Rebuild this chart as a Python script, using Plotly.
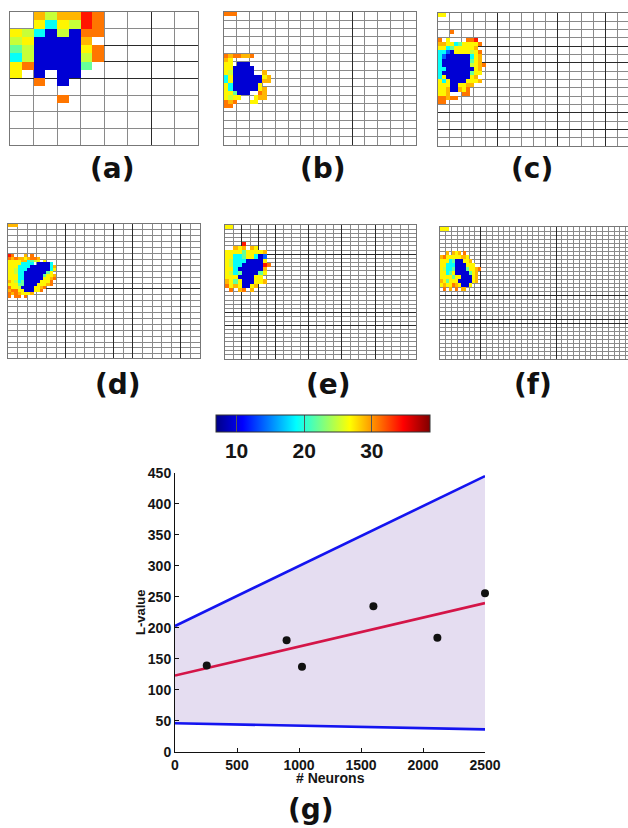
import plotly.graph_objects as go

W, H = 628, 828

# ---------------- data: panel (g) ----------------
neurons = [256, 900, 1024, 1600, 2116, 2500]
l_values = [139, 180, 137, 235, 184, 256]
fit_x = [0, 2500]
fit_y = [123, 240]
upper_y = [203, 445]
lower_y = [46, 36]

x_ticks = [0, 500, 1000, 1500, 2000, 2500]
y_ticks = [0, 50, 100, 150, 200, 250, 300, 350, 400, 450]
cbar_ticks = [10, 20, 30]
cbar_range = [6.96, 38.6]

panel_labels = ["(a)", "(b)", "(c)", "(d)", "(e)", "(f)", "(g)"]

# ---------------- data: SOM hit maps (a)-(f) ----------------
# each character is one neuron; '.' = no value
LEVELS = {'B': 9.5, 'b': 14, 'c': 19, 'g': 22, 'l': 25, 'y': 27, 'a': 29, 'o': 31, 'r': 34}

som_a = {
    0: "..alaaro", 1: "..ycylro", 2: "ylcBlBoo", 3: "lyBBBBa.", 4: "glBBBByo",
    5: "clBBBBlo", 6: "yoBBBBg.", 7: "y.B.BB..", 8: "..o.B...", 10: "....o...",
}
som_b = {
    0: "ooo",
    10: "oaooaao", 11: "ay", 12: "yy.BBB", 13: "yyBBBBB", 14: "ylBBBBB..a",
    15: "cyBBBBBBBya", 16: "cyBBBBBBBaa", 17: "ycBBBBBBy", 18: "ycBBBBBBya",
    19: "yygBBB..oa", 20: "ylyy...yaa", 21: "oao...yy", 22: "oo",
}
som_c = {
    0: "yy", 4: "...o",
    6: "o.y....oor", 7: "aayycgyyyyo", 8: "yycgyyyyya", 9: "ccbByyyylyo",
    10: "cbBBBBBBcya", 11: "cBBBBBBBgya", 12: "cBBBBBBBlyao", 13: "ccBBBBBBBya",
    14: "cBBBBBBBgyy", 15: "cyBBBBBBya", 16: "ycyBBBByyya", 17: "yyyBByyaa",
    18: "yyaBBayo", 19: "yya...oo", 20: "ooaoo", 21: "oo",
}
som_d = {
    0: "aaa",
    10: "ro...a.o", 11: "oaoaayaooa", 12: "yyyyaacgly.y", 13: "yyyycccc.BBBBc",
    14: "yyyccccBBBBBBca", 15: "yylcccBBBBBBBcy", 16: "yylccBBBBBBBgy",
    17: "yyyccBBBBBBgyya", 18: "yyyccBBBBBByyao", 19: "aylcgBBBBByyyo",
    20: "yyyggBBBByyyao", 21: "oyylBBBByyao", 22: "aooyyBBByyo", 23: "oaoayyya",
    24: "o.oo.o",
}
som_e = {
    0: "yy", 4: "....r",
    5: "..aya.ay", 6: "yyyygyyyya", 7: "yyccgyycBb", 8: "ylcccBBBBy",
    9: "ylccBBBBBro", 10: "yycBBBBBBa", 11: "ylcgBBBBgy", 12: "yyyBBBByy",
    13: "aygyBBByya", 14: "oyayBBya", 15: ".o.ao.a",
}
som_f = {
    0: "yyy",
    6: "..a.aya.o", 7: "aoyyyyyaay", 8: "yyycgBBByya", 9: "yycccBBBByyy",
    10: "ylccgBBBBgyyao", 11: "yycgyBBBBBgya", 12: "yyyygyyBBBBya",
    13: "aygyyyBBBBBya", 14: "yayyoayBBBy", 15: ".o.a.o.aa",
}
som_maps = [som_a, som_b, som_c, som_d, som_e, som_f]

# ---------------- layout specs (pixels) ----------------
PANELS = [
    dict(box=(10, 12, 198, 145), nx=16, ny=16, gx=2, gy=2, dark_x=[12], dark_y=[4, 6, 8]),
    dict(box=(224, 12, 416, 145), nx=45, ny=32, gx=3, gy=2, dark_x=[30], dark_y=[]),
    dict(box=(438, 13, 628, 146), nx=47.7, ny=32, gx=3, gy=2, dark_x=[15, 30, 42], dark_y=[8, 12, 24, 28]),
    dict(box=(8, 224, 200, 358), nx=60, ny=45.4, gx=3, gy=2, dark_x=[18, 33, 39, 54], dark_y=[22]),
    dict(box=(225, 225, 416, 359), nx=45.8, ny=32.1, gx=2, gy=1, dark_x=[4, 8, 12, 20, 28, 36], dark_y=[7, 21, 24]),
    dict(box=(440, 227, 628, 359), nx=64.8, ny=33, gx=2, gy=1, dark_x=[14, 40], dark_y=[17, 23, 24]),
]
LABEL_POS = [(113, 168), (323, 168), (532, 168), (118, 384), (328, 384), (533, 384), (311, 809)]
G_BOX = (175, 473, 485, 751.7)

JET = [[0, 'rgb(0,0,135)'], [0.125, 'rgb(0,0,255)'], [0.375, 'rgb(0,255,255)'],
       [0.625, 'rgb(255,255,0)'], [0.875, 'rgb(255,0,0)'], [1, 'rgb(128,0,0)']]
BOLD = dict(family='Liberation Sans', weight='bold', color='#151515')


def som_grid(rows):
    nrow = max(rows) + 1
    ncol = max(len(s) for s in rows.values())
    z = [[None] * ncol for _ in range(nrow)]
    for r, s in rows.items():
        for c, ch in enumerate(s):
            if ch in LEVELS:
                z[r][c] = LEVELS[ch]
    return z


def dom_x(x0, x1):
    return [x0 / W, x1 / W]


def dom_y(y0, y1):
    return [1 - y1 / H, 1 - y0 / H]


def grid_axis(domain, rng, g, dark, anchor):
    return dict(domain=domain, range=rng, anchor=anchor, showticklabels=False, ticks='',
                showgrid=True, tickmode='array', tickvals=dark, gridcolor='#2a2a2a', gridwidth=1,
                minor=dict(tickmode='linear', tick0=0, dtick=g, showgrid=True,
                           gridcolor='#8a8a8a', gridwidth=1, ticks=''),
                zeroline=False, showline=True, mirror=True, linecolor='#777777', linewidth=1,
                fixedrange=True)


fig = go.Figure()
layout = {}
for i, (spec, rows) in enumerate(zip(PANELS, som_maps)):
    k = '' if i == 0 else str(i + 1)
    x0, y0, x1, y1 = spec['box']
    layout['xaxis' + k] = grid_axis(dom_x(x0, x1), [0, spec['nx']], spec['gx'], spec['dark_x'], 'y' + k)
    layout['yaxis' + k] = grid_axis(dom_y(y0, y1), [spec['ny'], 0], spec['gy'], spec['dark_y'], 'x' + k)
    fig.add_trace(go.Heatmap(z=som_grid(rows), x0=0.5, dx=1, y0=0.5, dy=1,
                             coloraxis='coloraxis', xaxis='x' + k, yaxis='y' + k,
                             hoverinfo='skip'))

# ---------------- panel (g) ----------------
gx0, gy0, gx1, gy1 = G_BOX
fig.add_trace(go.Scatter(x=fit_x, y=lower_y, mode='lines', line=dict(color='#1414f0', width=2.6),
                         xaxis='x7', yaxis='y7', showlegend=False))
fig.add_trace(go.Scatter(x=fit_x, y=upper_y, mode='lines', line=dict(color='#1414f0', width=2.6),
                         fill='tonexty', fillcolor='#e5ddf1', xaxis='x7', yaxis='y7', showlegend=False))
fig.add_trace(go.Scatter(x=fit_x, y=fit_y, mode='lines', line=dict(color='#d41548', width=2.6),
                         xaxis='x7', yaxis='y7', showlegend=False))
fig.add_trace(go.Scatter(x=neurons, y=l_values, mode='markers', cliponaxis=False,
                         marker=dict(color='#111111', size=8),
                         xaxis='x7', yaxis='y7', showlegend=False))

axis_g = dict(showline=True, linecolor='#111', linewidth=1, ticks='inside', ticklen=4,
              tickcolor='#111', showgrid=False, zeroline=False, tickfont=dict(size=14, **BOLD),
              tickmode='array', fixedrange=True)
layout['xaxis7'] = dict(domain=dom_x(gx0, gx1), range=[0, 2500], anchor='y7', tickvals=x_ticks, **axis_g)
layout['yaxis7'] = dict(domain=dom_y(gy0, gy1), range=[0, 450], anchor='x7', tickvals=y_ticks, **axis_g)

annotations = []
for text, (px, py) in zip(panel_labels, LABEL_POS):
    annotations.append(dict(text=text, x=px / W, y=1 - py / H, xref='paper', yref='paper',
                            xanchor='center', yanchor='middle', showarrow=False,
                            font=dict(family='DejaVu Sans', size=28, weight='bold', color='#111')))
annotations.append(dict(text='# Neurons', x=330 / W, y=1 - 778 / H, xref='paper', yref='paper',
                        xanchor='center', yanchor='middle', showarrow=False, font=dict(size=14, **BOLD)))
annotations.append(dict(text='L-value', x=140 / W, y=1 - 612 / H, xref='paper', yref='paper',
                        xanchor='center', yanchor='middle', showarrow=False, textangle=-90,
                        font=dict(size=13, **BOLD)))

fig.update_layout(
    width=W, height=H, margin=dict(l=0, r=0, t=0, b=0, autoexpand=False),
    paper_bgcolor='white', plot_bgcolor='rgba(0,0,0,0)',
    font=dict(family='Liberation Sans'),
    showlegend=False,
    annotations=annotations,
    coloraxis=dict(
        cmin=cbar_range[0], cmax=cbar_range[1], colorscale=JET,
        colorbar=dict(orientation='h', x=323 / W, xanchor='center', y=1 - 415 / H, yanchor='top',
                      len=214 / W, lenmode='fraction', thickness=17, thicknessmode='pixels',
                      xpad=0, ypad=0, outlinewidth=1, outlinecolor='#333',
                      tickmode='array', tickvals=cbar_ticks, ticks='inside', ticklen=17,
                      tickcolor='#555', tickwidth=1,
                      tickfont=dict(size=21, **BOLD)),
    ),
    **layout,
)

fig.write_html("out.html", config={'displayModeBar': False, 'staticPlot': True},
               post_script="document.body.style.margin='0';")
